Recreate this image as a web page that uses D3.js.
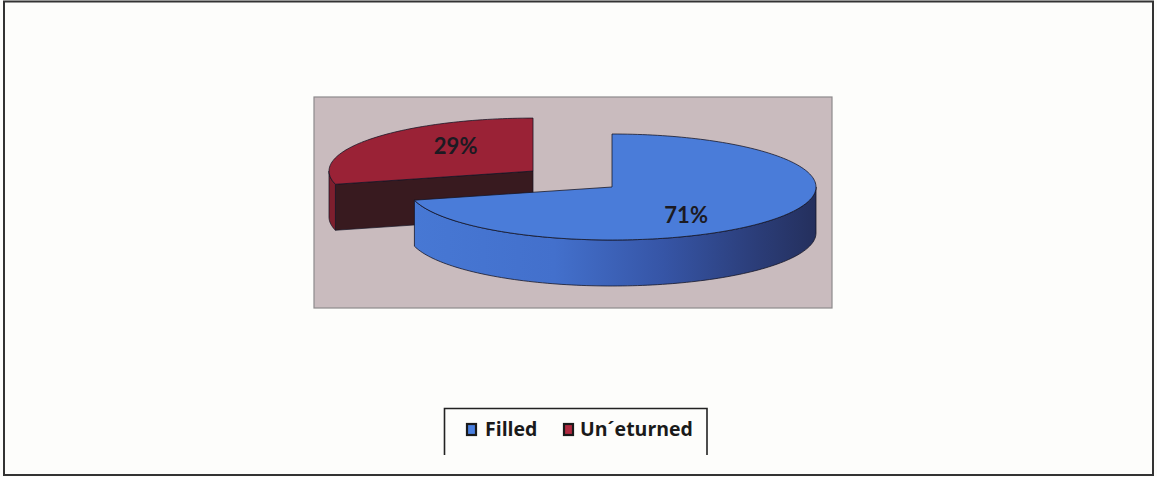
<!DOCTYPE html>
<html>
<head>
<meta charset="utf-8">
<script src="https://cdn.jsdelivr.net/npm/d3@7"></script>
<style>
  html, body { margin: 0; padding: 0; background: #fdfdfb; }
  svg { display: block; }
</style>
</head>
<body>
<script>
// ---- data ----
const categories = ["Filled", "Un\u00b4eturned"];
const values = [71, 29];
const valueLabels = ["71%", "29%"];

// ---- styles ----
const topColors = ["#4a7cd9", "#9a2236"];
const legendColors = ["#4a80e0", "#b02a40"];
const W = 1157, H = 477;

const svg = d3.select("body").append("svg").attr("width", W).attr("height", H);

// outer frame
svg.append("rect").attr("x", 4).attr("y", 1.5).attr("width", 1149).attr("height", 473.5)
  .attr("fill", "#fdfdfb").attr("stroke", "#333").attr("stroke-width", 2);

// plot area
const plot = { x: 314, y: 97, w: 518, h: 211 };
svg.append("rect").attr("x", plot.x).attr("y", plot.y).attr("width", plot.w).attr("height", plot.h)
  .attr("fill", "#c9bbbe").attr("stroke", "#8e8a8c").attr("stroke-width", 1.2);

// gradient for blue side
const defs = svg.append("defs");
const g1 = defs.append("linearGradient").attr("id", "blueSide")
  .attr("gradientUnits", "userSpaceOnUse").attr("x1", 412).attr("x2", 818).attr("y1", 0).attr("y2", 0);
[[0, "#4778d4"], [0.35, "#4370cc"], [0.62, "#3655a6"], [0.85, "#2b3d78"], [1, "#242f5c"]]
  .forEach(([o, c]) => g1.append("stop").attr("offset", o).attr("stop-color", c));

// pie geometry
const cx = 612, cy = 187, rx = 204, ry = 53, depth = 46, explodeF = 0.49;
const pie = d3.pie().sort(null).value(d => d.value).startAngle(0).endAngle(2 * Math.PI);
const data = categories.map((c, i) => ({ cat: c, value: values[i], label: valueLabels[i], i }));
const arcs = pie(data);

const pt = (x0, y0, a, f = 1) => [x0 + rx * f * Math.sin(a), y0 - ry * f * Math.cos(a)];
const samples = (a0, a1) => {
  const n = Math.max(2, Math.ceil(Math.abs(a1 - a0) * 40));
  return d3.range(n + 1).map(k => a0 + (a1 - a0) * k / n);
};
const line = d3.line();

function centerOf(d) {
  if (d.data.i === 0) return [cx, cy];
  const mid = (d.startAngle + d.endAngle) / 2;
  return pt(cx, cy, mid, explodeF);
}

function topPath(c, d) {
  const pts = [c].concat(samples(d.startAngle, d.endAngle).map(a => pt(c[0], c[1], a)));
  return line(pts) + "Z";
}
function sidePath(c, a0, a1) {
  const s = samples(a0, a1);
  const topPts = s.map(a => pt(c[0], c[1], a));
  const botPts = s.slice().reverse().map(a => { const p = pt(c[0], c[1], a); return [p[0], p[1] + depth]; });
  return line(topPts.concat(botPts)) + "Z";
}
function frontRange(d) {
  const a0 = Math.max(d.startAngle, Math.PI / 2), a1 = Math.min(d.endAngle, 3 * Math.PI / 2);
  return a1 > a0 ? [a0, a1] : null;
}

const edge = "rgba(20,20,35,0.85)";
// draw the exploded (back) slice first, then the main slice
const order = [arcs[1], arcs[0]];
order.forEach(d => {
  const c = centerOf(d);
  const g = svg.append("g");
  if (d.data.i === 1) {
    const p = pt(c[0], c[1], d.startAngle);
    g.append("path")
      .attr("d", line([c, p, [p[0], p[1] + depth], [c[0], c[1] + depth]]) + "Z")
      .attr("fill", "#381a1f").attr("stroke", edge).attr("stroke-width", 0.8);
  }
  const fr = frontRange(d);
  if (fr) {
    g.append("path").attr("d", sidePath(c, fr[0], fr[1]))
      .attr("fill", d.data.i === 0 ? "url(#blueSide)" : "#7e1f2e")
      .attr("stroke", edge).attr("stroke-width", 0.9);
  }
  g.append("path").attr("d", topPath(c, d))
    .attr("fill", topColors[d.data.i]).attr("stroke", edge).attr("stroke-width", 0.9);
});

// value labels
const labelF = [0.46, 0.48];
const labelDy = [21, -1];
arcs.forEach(d => {
  const c = centerOf(d);
  const mid = (d.startAngle + d.endAngle) / 2;
  const p = pt(c[0], c[1], mid, labelF[d.data.i]);
  svg.append("text").attr("x", p[0]).attr("y", p[1] + labelDy[d.data.i])
    .attr("text-anchor", "middle")
    .attr("font-family", "Lato, 'Open Sans', sans-serif").attr("font-weight", "bold")
    .attr("font-size", 22).attr("fill", "#1c1a22").text(d.data.label);
});

// legend (box open at bottom)
svg.append("path").attr("d", "M444.5,455 V408.5 H707 V455")
  .attr("fill", "none").attr("stroke", "#222").attr("stroke-width", 1.6);
const legendX = [466, 563];
const legendTextX = [485, 580];
categories.forEach((c, i) => {
  svg.append("rect").attr("x", legendX[i] + 1).attr("y", 424).attr("width", 9).attr("height", 11)
    .attr("fill", legendColors[i]).attr("stroke", "#1a1a1a").attr("stroke-width", 2.2);
  svg.append("text").attr("x", legendTextX[i]).attr("y", 436)
    .attr("font-family", "'Open Sans', Lato, sans-serif").attr("font-weight", "bold")
    .attr("font-size", 19.5).attr("fill", "#1a1a1a").text(c);
});
</script>
</body>
</html>
